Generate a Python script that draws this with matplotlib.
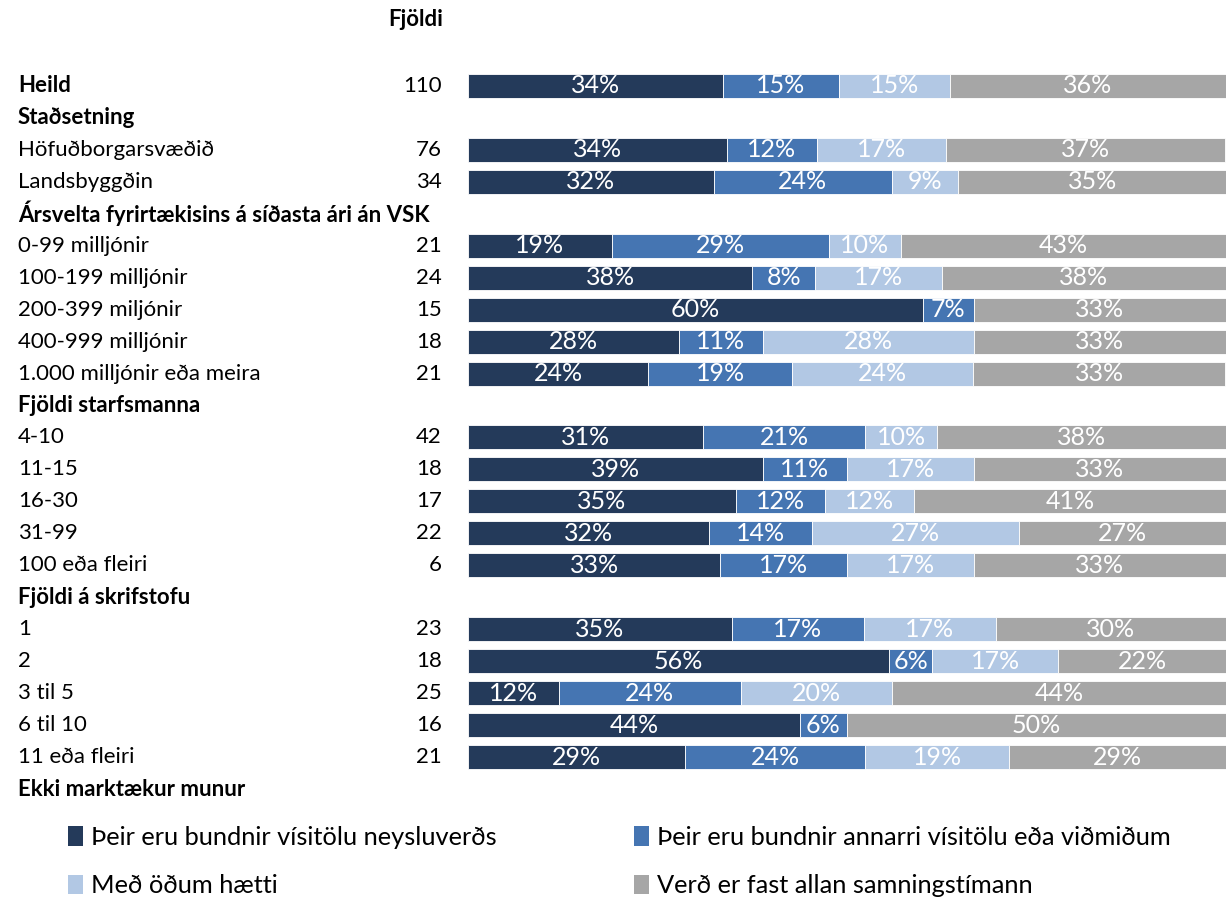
import matplotlib
matplotlib.use("Agg")
import matplotlib.pyplot as plt
from matplotlib.patches import Patch
from matplotlib.transforms import blended_transform_factory

plt.rcParams['font.family'] = ['Lato', 'DejaVu Sans']

labels = ["Heild", "Staðsetning", "Höfuðborgarsvæðið", "Landsbyggðin",
          "Ársvelta fyrirtækisins á síðasta ári án VSK",
          "0-99 milljónir", "100-199 milljónir", "200-399 miljónir",
          "400-999 milljónir", "1.000 milljónir eða meira",
          "Fjöldi starfsmanna", "4-10", "11-15", "16-30", "31-99", "100 eða fleiri",
          "Fjöldi á skrifstofu", "1", "2", "3 til 5", "6 til 10", "11 eða fleiri",
          "Ekki marktækur munur"]
headers = ["Heild", "Staðsetning", "Ársvelta fyrirtækisins á síðasta ári án VSK",
           "Fjöldi starfsmanna", "Fjöldi á skrifstofu", "Ekki marktækur munur"]
counts = [110, None, 76, 34, None, 21, 24, 15, 18, 21, None, 42, 18, 17, 22, 6,
          None, 23, 18, 25, 16, 21, None]

s1 = [33.6, None, 34.2, 32.4, None, 19.0, 37.5, 60.0, 27.8, 23.8, None, 31.0, 38.9, 35.3, 31.8, 33.3,
      None, 34.8, 55.6, 12.0, 43.75, 28.6, None]
s2 = [15.4, None, 11.8, 23.5, None, 28.6, 8.3, 6.7, 11.1, 19.0, None, 21.4, 11.1, 11.8, 13.6, 16.7,
      None, 17.4, 5.6, 24.0, 6.25, 23.8, None]
s3 = [14.6, None, 17.1, 8.8, None, 9.5, 16.7, 0.0, 27.8, 23.8, None, 9.5, 16.7, 11.8, 27.3, 16.7,
      None, 17.4, 16.7, 20.0, 0.0, 19.0, None]
s4 = [36.4, None, 36.8, 35.3, None, 42.9, 37.5, 33.3, 33.3, 33.3, None, 38.1, 33.3, 41.2, 27.3, 33.3,
      None, 30.4, 22.2, 44.0, 50.0, 28.6, None]

series = ["Þeir eru bundnir vísitölu neysluverðs",
          "Þeir eru bundnir annarri vísitölu eða viðmiðum",
          "Með öðum hætti",
          "Verð er fast allan samningstímann"]
colors = ["#243A5A", "#4575B2", "#B2C8E4", "#A6A6A6"]

fig = plt.figure(figsize=(12.26, 8.99), dpi=100)
ax = fig.add_axes([468 / 1226, 1 - 805 / 899, 1 - 468 / 1226, (805 - 6) / 899])
ax.set_xlim(0, 100)
ax.set_ylim(22.5, -2.5)
ax.axis("off")

fs = 16
pct_font = ['Liberation Sans Narrow', 'Lato']
for i, lab in enumerate(labels):
    if counts[i] is None:
        continue
    left = 0
    for vals, c in zip([s1, s2, s3, s4], colors):
        v = vals[i]
        if v > 0:
            ax.barh(i, v, left=left, height=0.75, color=c, edgecolor="white", linewidth=0.6)
            ax.text(left + v / 2, i, f"{v:.0f}%", ha="center", va="center",
                    color="white", fontsize=18, family=pct_font)
        left += v

tr = blended_transform_factory(fig.transFigure, ax.transData)
for i, lab in enumerate(labels):
    bold = lab in headers
    ax.text(18 / 1226, i, lab, transform=tr, ha="left", va="center", fontsize=fs,
            fontweight="bold" if bold else "normal", clip_on=False)
    if counts[i] is not None:
        ax.text(442 / 1226, i, str(counts[i]), transform=tr, ha="right", va="center",
                fontsize=fs, clip_on=False)
ax.text(443 / 1226, -2.07, "Fjöldi", transform=tr, ha="right", va="center",
        fontsize=fs, fontweight="bold", clip_on=False)

# legend is filled row by row in the reference
order = [0, 2, 1, 3]
handles = [Patch(facecolor=colors[k], edgecolor="none") for k in order]
fig.legend(handles, [series[k] for k in order], ncol=2, loc="upper left",
           bbox_to_anchor=(0.037, 0.107), frameon=False, fontsize=18.3,
           handlelength=0.6, handleheight=0.8, handletextpad=0.3,
           columnspacing=5.4, labelspacing=1.0)

fig.savefig("out.png", dpi=100)
